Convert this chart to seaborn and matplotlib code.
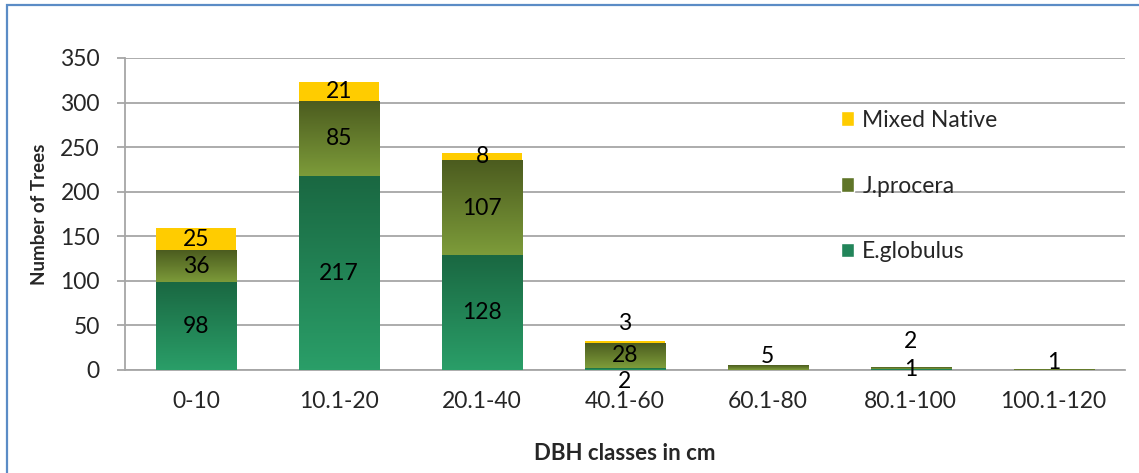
import numpy as np
import pandas as pd
import matplotlib
matplotlib.use("Agg")
import matplotlib.pyplot as plt
import seaborn as sns
from matplotlib.colors import LinearSegmentedColormap
from matplotlib.patches import Rectangle, Patch

# DBH class counts per species group
dbh_classes = ["0-10", "10.1-20", "20.1-40", "40.1-60", "60.1-80", "80.1-100", "100.1-120"]
e_globulus = [98, 217, 128, 2, 0, 1, 0]
j_procera = [36, 85, 107, 28, 5, 2, 1]
mixed_native = [25, 21, 8, 3, 0, 0, 0]

sns.set_theme(style="white")
plt.rcParams["font.family"] = ["Lato", "DejaVu Sans"]

fig = plt.figure(figsize=(11.39, 4.73), dpi=100)
ax = fig.add_axes([0.1097, 0.2178, 0.878, 0.6596])

df = pd.DataFrame({
    "dbh": dbh_classes,
    "E.globulus": e_globulus,
    "J.procera": j_procera,
    "Mixed Native": mixed_native,
})
df["lvl1"] = df["E.globulus"]
df["lvl2"] = df["lvl1"] + df["J.procera"]
df["lvl3"] = df["lvl2"] + df["Mixed Native"]

bar_w = 0.56
# stacked look: draw cumulative totals from tallest to shortest
sns.barplot(data=df, x="dbh", y="lvl3", order=dbh_classes, color="#ffcc00",
            width=bar_w, saturation=1, ax=ax, zorder=2, linewidth=0)
sns.barplot(data=df, x="dbh", y="lvl2", order=dbh_classes, color="#6b8430",
            width=bar_w, saturation=1, ax=ax, zorder=3, linewidth=0)
sns.barplot(data=df, x="dbh", y="lvl1", order=dbh_classes, color="#238a57",
            width=bar_w, saturation=1, ax=ax, zorder=4, linewidth=0)

n = len(dbh_classes)
patches = ax.patches
layers = {"Mixed Native": patches[0:n], "J.procera": patches[n:2 * n], "E.globulus": patches[2 * n:3 * n]}

grad_e = LinearSegmentedColormap.from_list("eg", ["#2a9e68", "#1a6842"])
grad_j = LinearSegmentedColormap.from_list("jp", ["#7d9c3a", "#4c5c1f"])
grad_img = np.linspace(0, 1, 64).reshape(-1, 1)

def shade(patch, lower, cmap, z):
    x0 = patch.get_x()
    w = patch.get_width()
    top = patch.get_height()
    if top - lower <= 0:
        return
    ax.imshow(grad_img, cmap=cmap, origin="lower", aspect="auto",
              extent=[x0, x0 + w, lower, top], zorder=z, interpolation="bilinear")

for i in range(n):
    shade(layers["J.procera"][i], df["lvl1"][i], grad_j, 3.5)
    shade(layers["E.globulus"][i], 0, grad_e, 4.5)

# segment value labels (offsets in points for very thin segments)
nudges = {
    (3, "E.globulus"): -9, (3, "J.procera"): 0, (3, "Mixed Native"): 13,
    (4, "J.procera"): 8, (5, "E.globulus"): 0, (5, "J.procera"): 19,
    (6, "J.procera"): 5,
}
for i in range(n):
    lower = 0
    for name in ["E.globulus", "J.procera", "Mixed Native"]:
        v = df[name][i]
        if v > 0:
            ax.annotate(str(v), (i, lower + v / 2), xytext=(0, nudges.get((i, name), 0)),
                        textcoords="offset points", ha="center", va="center",
                        fontsize=16.5, color="black", zorder=10)
        lower += v

ax.set_xlim(-0.5, n - 0.5)
ax.set_ylim(0, 350)
ax.set_yticks(range(0, 351, 50))
ax.yaxis.grid(True, color="#a6a6a6", linewidth=1.3, zorder=0)
ax.set_axisbelow(True)
for s in ["top", "right"]:
    ax.spines[s].set_visible(False)
ax.spines["left"].set_color("#a6a6a6")
ax.spines["bottom"].set_color("#a6a6a6")
ax.spines["left"].set_linewidth(1.3)
ax.spines["bottom"].set_linewidth(1.3)
ax.tick_params(axis="y", left=True, length=6, width=1.3, color="#a6a6a6",
               labelsize=16.5, pad=12)
ax.tick_params(axis="x", bottom=False, labelsize=16.5, pad=9)
ax.set_xlabel("DBH classes in cm", fontsize=16, fontweight="bold")
ax.set_ylabel("Number of Trees", fontsize=13.5, fontweight="bold")
ax.xaxis.set_label_coords(0.5, -0.235)
ax.yaxis.set_label_coords(-0.077, 0.5)

handles = [Patch(facecolor="#ffcc00", label="Mixed Native"),
           Patch(facecolor="#5f7528", label="J.procera"),
           Patch(facecolor="#22855a", label="E.globulus")]
ax.legend(handles=handles, loc="upper left", bbox_to_anchor=(0.695, 0.9),
          frameon=False, fontsize=16.5, labelspacing=1.95, handlelength=0.6,
          handleheight=0.6, handletextpad=0.35)

# outer frame around the chart
fig.patches.append(Rectangle((0.006, -0.02), 1.1, 1.009, transform=fig.transFigure,
                             fill=False, edgecolor="#5b8cc6", linewidth=1.6))

fig.savefig("out.png", dpi=100)
